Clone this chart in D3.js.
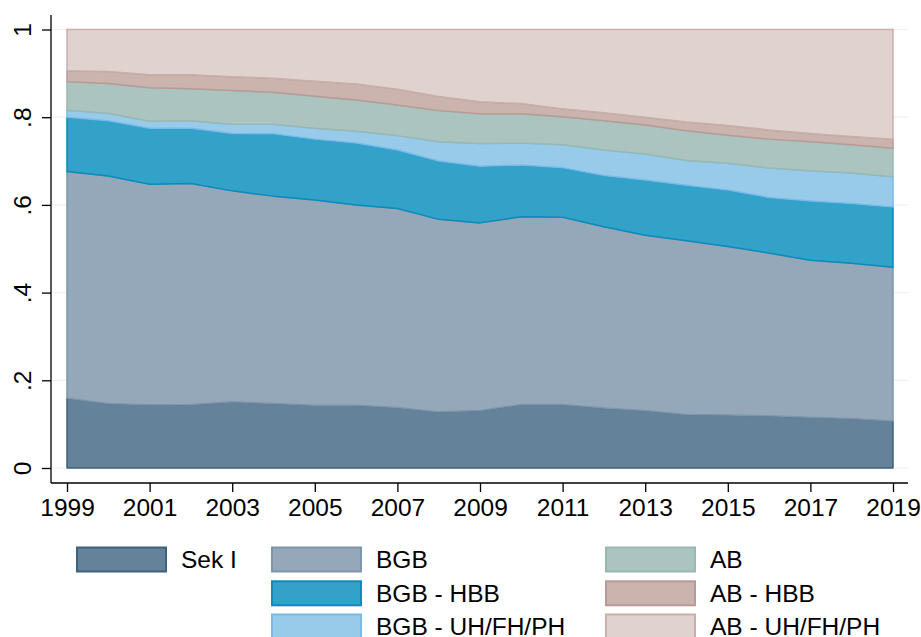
<!DOCTYPE html>
<html>
<head>
<meta charset="utf-8">
<script src="https://d3js.org/d3.v7.min.js"></script>
<style>
  body { margin: 0; background: #fff; }
  text { font-family: "Liberation Sans", Arial, sans-serif; fill: #000; }
</style>
</head>
<body>
<svg width="921" height="637"></svg>
<script>
// shares by year, stacked bottom to top
var years = d3.range(1999, 2020);
var sekI   = [0.159,0.147,0.144,0.145,0.151,0.147,0.143,0.143,0.138,0.128,0.131,0.145,0.145,0.137,0.131,0.122,0.121,0.119,0.116,0.113,0.107];
var bgb    = [0.517,0.519,0.503,0.504,0.481,0.473,0.468,0.457,0.454,0.439,0.428,0.428,0.427,0.413,0.400,0.396,0.384,0.371,0.358,0.354,0.351];
var bgbHbb = [0.124,0.126,0.128,0.126,0.131,0.142,0.139,0.141,0.133,0.133,0.129,0.118,0.113,0.117,0.126,0.127,0.129,0.127,0.135,0.136,0.137];
var bgbUh  = [0.016,0.017,0.016,0.017,0.021,0.022,0.025,0.027,0.033,0.044,0.052,0.050,0.052,0.058,0.059,0.056,0.061,0.067,0.069,0.070,0.069];
var ab     = [0.065,0.068,0.076,0.073,0.077,0.073,0.073,0.071,0.070,0.071,0.068,0.067,0.064,0.067,0.066,0.068,0.064,0.066,0.066,0.064,0.065];
var abHbb  = [0.025,0.027,0.030,0.032,0.031,0.032,0.034,0.037,0.036,0.032,0.027,0.023,0.018,0.018,0.018,0.020,0.022,0.021,0.019,0.019,0.021];
var abUh   = [0.094,0.096,0.103,0.103,0.108,0.111,0.118,0.124,0.136,0.153,0.165,0.169,0.181,0.190,0.200,0.211,0.219,0.229,0.237,0.244,0.250];

var seriesNames = ["Sek I", "BGB", "BGB - HBB", "BGB - UH/FH/PH", "AB", "AB - HBB", "AB - UH/FH/PH"];
var seriesValues = [sekI, bgb, bgbHbb, bgbUh, ab, abHbb, abUh];
var fills   = ["#64829a", "#95a8b9", "#33a2c9", "#98cbea", "#acc4bf", "#cbb3ae", "#e0d3cf"];
var strokes = ["#3f6179", "#7d96ac", "#0a8abd", "#78bbe8", "#97b9b1", "#b89b96", "#c9aea9"];

var yTicks = [0, 0.2, 0.4, 0.6, 0.8, 1];
var yTickLabels = ["0", ".2", ".4", ".6", ".8", "1"];
var xTicks = d3.range(1999, 2020, 2);

// legend slots: [column, row]
var legendSlots = [[0,0],[1,0],[1,1],[1,2],[2,0],[2,1],[2,2]];

var table = years.map(function(yr, i) {
  var row = { year: yr };
  seriesNames.forEach(function(n, k) { row[n] = seriesValues[k][i]; });
  return row;
});

var svg = d3.select("svg");
var x = d3.scaleLinear().domain([1999, 2019]).range([67, 893]);
var y = d3.scaleLinear().domain([0, 1]).range([468, 29.5]);

var axisLeftX = 51, axisBottomY = 483, plotRight = 908, plotTop = 15;
var fontSize = 24.5;

// gridlines
svg.append("g").selectAll("line")
  .data(yTicks)
  .enter().append("line")
  .attr("x1", axisLeftX).attr("x2", plotRight)
  .attr("y1", function(d) { return y(d); })
  .attr("y2", function(d) { return y(d); })
  .attr("stroke", "#eaf2f3")
  .attr("stroke-width", 1.2);

var stack = d3.stack().keys(seriesNames);
var layers = stack(table);

var area = d3.area()
  .x(function(d) { return x(d.data.year); })
  .y0(function(d) { return y(d[0]); })
  .y1(function(d) { return y(d[1]); });

svg.append("g").selectAll("path")
  .data(layers)
  .enter().append("path")
  .attr("d", area)
  .attr("fill", function(d, i) { return fills[i]; })
  .attr("stroke", function(d, i) { return strokes[i]; })
  .attr("stroke-width", 1.5)
  .attr("stroke-linejoin", "round");

// y axis
var yAxis = svg.append("g")
  .attr("transform", "translate(" + axisLeftX + ",0)")
  .call(d3.axisLeft(y).tickValues(yTicks).tickSize(9).tickPadding(0)
    .tickFormat(function(d, i) { return yTickLabels[i]; }));
yAxis.select(".domain").attr("d", "M0," + plotTop + "V" + axisBottomY).attr("stroke", "#000").attr("stroke-width", 1.3);
yAxis.selectAll(".tick line").attr("stroke", "#000").attr("stroke-width", 1.3);
yAxis.selectAll(".tick text")
  .attr("font-size", fontSize)
  .attr("font-family", "Liberation Sans, Arial, sans-serif")
  .attr("x", 0).attr("y", 0).attr("dy", null)
  .attr("text-anchor", "middle")
  .attr("transform", "translate(-29,0) rotate(-90)")
  .attr("dominant-baseline", "central");

// x axis
var xAxis = svg.append("g")
  .attr("transform", "translate(0," + axisBottomY + ")")
  .call(d3.axisBottom(x).tickValues(xTicks).tickSize(9).tickPadding(6.5).tickFormat(d3.format("d")));
xAxis.select(".domain").attr("d", "M" + axisLeftX + ",0H" + plotRight).attr("stroke", "#000").attr("stroke-width", 1.3);
xAxis.selectAll(".tick line").attr("stroke", "#000").attr("stroke-width", 1.3);
xAxis.selectAll(".tick text")
  .attr("font-size", fontSize)
  .attr("font-family", "Liberation Sans, Arial, sans-serif");

// legend
var colX = [77, 272, 606], rowY = [547.5, 581.3, 614.5];
var legend = svg.append("g").selectAll("g")
  .data(seriesNames)
  .enter().append("g")
  .attr("transform", function(d, i) {
    return "translate(" + colX[legendSlots[i][0]] + "," + rowY[legendSlots[i][1]] + ")";
  });
legend.append("rect")
  .attr("x", 0).attr("y", 0)
  .attr("width", 89).attr("height", 24)
  .attr("fill", function(d, i) { return fills[i]; })
  .attr("stroke", function(d, i) { return strokes[i]; })
  .attr("stroke-width", 2);
legend.append("text")
  .attr("x", 104).attr("y", 20.5)
  .attr("font-size", fontSize)
  .text(function(d) { return d; });
</script>
</body>
</html>
